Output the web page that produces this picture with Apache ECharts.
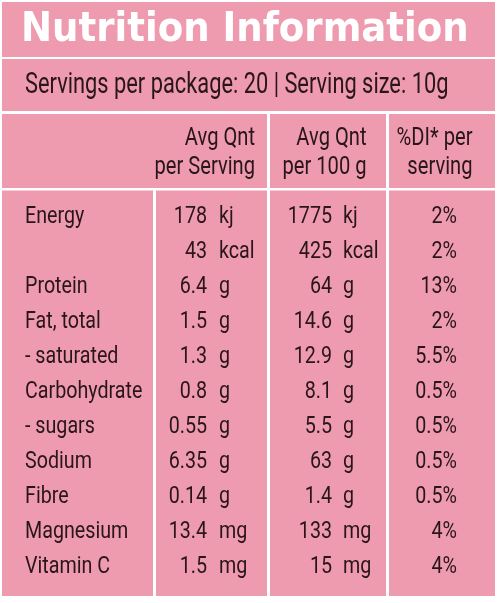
<!DOCTYPE html>
<html>
<head>
<meta charset="utf-8">
<script src="https://cdn.jsdelivr.net/npm/echarts@6/dist/echarts.min.js"></script>
<style>
html,body{margin:0;padding:0;background:#ffffff;}
#chart{width:500px;height:603px;}
</style>
</head>
<body>
<div id="chart"></div>
<script>
// ---- data ----
const title = 'Nutrition Information';
const servingsLine = 'Servings per package: 20 | Serving size: 10g';
const headerPerServing = ['Avg Qnt', 'per Serving'];
const headerPer100g = ['Avg Qnt', 'per 100 g'];
const headerDI = ['%DI* per', 'serving'];
const nutrients = ['Energy', '', 'Protein', 'Fat, total', '- saturated', 'Carbohydrate', '- sugars', 'Sodium', 'Fibre', 'Magnesium', 'Vitamin C'];
const perServing = ['178', '43', '6.4', '1.5', '1.3', '0.8', '0.55', '6.35', '0.14', '13.4', '1.5'];
const per100g = ['1775', '425', '64', '14.6', '12.9', '8.1', '5.5', '63', '1.4', '133', '15'];
const units = ['kj', 'kcal', 'g', 'g', 'g', 'g', 'g', 'g', 'g', 'mg', 'mg'];
const dailyIntake = ['2%', '2%', '13%', '2%', '5.5%', '0.5%', '0.5%', '0.5%', '0.5%', '4%', '4%'];

// ---- style / layout ----
const PINK = '#ee9bb0';
const INK = '#2a1519';
const FONT = 'Roboto, "Noto Sans", sans-serif';
const SX = 0.82; // condensed look

const chart = echarts.init(document.getElementById('chart'), null, {renderer: 'canvas'});

function rect(x, y, w, h) {
  return {type: 'rect', z: 0, shape: {x: x, y: y, width: w, height: h}, style: {fill: PINK}};
}
function txt(str, x, y, opts) {
  opts = opts || {};
  return {
    type: 'text', z: 10, x: x, y: y, scaleX: opts.sx || SX,
    style: {
      text: str, fill: opts.fill || INK, fontFamily: opts.family || FONT,
      fontSize: opts.size || 26, fontWeight: opts.weight || 'normal',
      align: opts.align || 'left', verticalAlign: 'middle'
    }
  };
}

const graphics = [
  rect(2, 2, 493, 55),
  rect(2, 59, 493, 52),
  rect(2, 114, 265, 74),
  rect(270, 114, 116, 74),
  rect(389, 114, 106, 74),
  rect(2, 190.5, 151, 405.5),
  rect(156, 190.5, 111, 405.5),
  rect(270, 190.5, 116, 405.5),
  rect(389, 190.5, 106, 405.5),
  txt(title, 21, 30.5, {family: '"DejaVu Sans", sans-serif', weight: 'bold', size: 41, fill: '#ffffff', sx: 0.905}),
  txt(servingsLine, 25, 85.5, {size: 29.5, sx: 0.74}),
  txt(headerPerServing[0], 255, 138, {size: 26.5, align: 'right', sx: 0.76}),
  txt(headerPerServing[1], 255, 167, {size: 26.5, align: 'right', sx: 0.76}),
  txt(headerPer100g[0], 366.5, 138, {size: 26.5, align: 'right', sx: 0.76}),
  txt(headerPer100g[1], 366.5, 167, {size: 26.5, align: 'right', sx: 0.76}),
  txt(headerDI[0], 472.5, 138, {size: 26.5, align: 'right', sx: 0.76}),
  txt(headerDI[1], 472.5, 167, {size: 26.5, align: 'right', sx: 0.76})
];

function bodyText(str, x, y, align) {
  return {
    type: 'text', x: x, y: y, scaleX: SX,
    style: {text: str, fill: INK, fontFamily: FONT, fontSize: 24, align: align, verticalAlign: 'middle'}
  };
}

function renderItem(params, api) {
  const i = params.dataIndex;
  const y = api.coord([0, api.value(1)])[1];
  return {
    type: 'group',
    children: [
      bodyText(nutrients[i], 25, y, 'left'),
      bodyText(perServing[i], 207, y, 'right'),
      bodyText(units[i], 219, y, 'left'),
      bodyText(per100g[i], 332, y, 'right'),
      bodyText(units[i], 343, y, 'left'),
      bodyText(dailyIntake[i], 457, y, 'right')
    ]
  };
}

chart.setOption({
  animation: false,
  backgroundColor: '#ffffff',
  grid: {left: 0, right: 0, top: 200, bottom: 19},
  xAxis: {type: 'value', min: 0, max: 1, show: false},
  yAxis: {type: 'category', inverse: true, data: nutrients.map((n, i) => i === 1 ? ' ' : n), show: false},
  graphic: graphics,
  series: [{
    type: 'custom',
    clip: false,
    z: 20,
    renderItem: renderItem,
    encode: {x: 0, y: 1},
    data: nutrients.map((n, i) => [0, i])
  }]
});
</script>
</body>
</html>
